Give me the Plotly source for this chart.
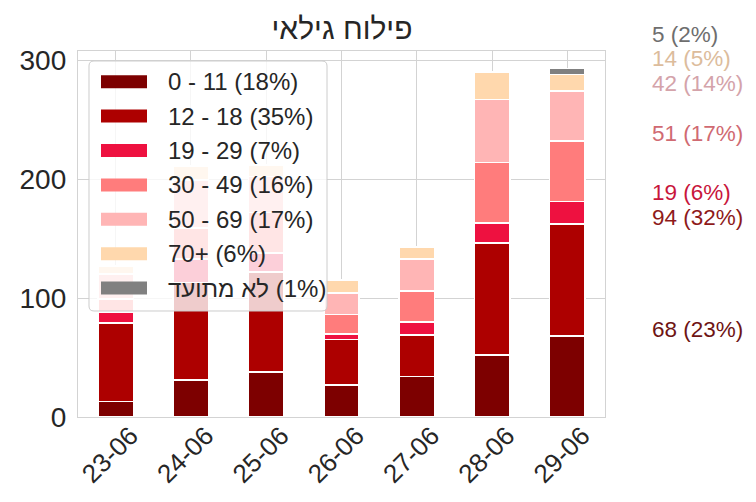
import plotly.graph_objects as go

# ---------------- data ----------------
dates = ["23-06", "24-06", "25-06", "26-06", "27-06", "28-06", "29-06"]
groups = ["0 - 11", "12 - 18", "19 - 29", "30 - 49", "50 - 69", "70+", "לא מתועד"]
legend_labels = ["0 - 11 (18%)", "12 - 18 (35%)", "19 - 29 (7%)", "30 - 49 (16%)",
                 "50 - 69 (17%)", "70+ (6%)", "לא מתועד\u200e (1%)"]

age_0_11 = [13, 31, 38, 27, 34, 52, 68]
age_12_18 = [66, 82, 84, 38, 35, 94, 94]
age_19_29 = [9, 20, 16, 5, 11, 17, 19]
age_30_49 = [11, 26, 34, 16, 26, 51, 51]
age_50_69 = [21, 40, 30, 18, 27, 53, 42]
age_70_plus = [7, 12, 10, 11, 10, 23, 14]
age_unknown = [0, 0, 0, 0, 0, 0, 5]

series = [age_0_11, age_12_18, age_19_29, age_30_49, age_50_69, age_70_plus, age_unknown]
y_ticks = [0, 100, 200, 300]

# ---------------- style ----------------
colors = ["#7d0000", "#ad0000", "#ee1140", "#ff7c7c", "#ffb5b5", "#ffd8ad", "#808080"]
label_colors = ["#6e1414", "#8e1a1a", "#c8163c", "#d06a72", "#d4a3aa", "#dcbc9c", "#6e6e6e"]
FONT = "Liberation Sans, Arial, DejaVu Sans, sans-serif"
TXT = "#262626"
GRID = "#d3d3d3"

W, H = 756, 502
L, R, T, B = 78, 605, 51, 417  # plot area in pixels
Y_MAX = 307.6

def xp(px):
    return (px - L) / (R - L)

def yp(py):
    return (B - py) / (B - T)

fig = go.Figure()
for name, vals, col in zip(groups, series, colors):
    fig.add_trace(go.Bar(
        x=dates, y=vals, name=name, marker_color=col,
        marker_line=dict(color="white", width=1.6), showlegend=False,
    ))

# ---------------- custom legend ----------------
shapes = []
annotations = []
bx0, bx1, by0, by1, rad = 89, 327, 61, 311, 5

def P(px, py):
    return f"{xp(px):.5f},{yp(py):.5f}"

path = (f"M{P(bx0+rad, by0)} L{P(bx1-rad, by0)} Q{P(bx1, by0)} {P(bx1, by0+rad)} "
        f"L{P(bx1, by1-rad)} Q{P(bx1, by1)} {P(bx1-rad, by1)} "
        f"L{P(bx0+rad, by1)} Q{P(bx0, by1)} {P(bx0, by1-rad)} "
        f"L{P(bx0, by0+rad)} Q{P(bx0, by0)} {P(bx0+rad, by0)} Z")
shapes.append(dict(type="path", path=path, xref="paper", yref="paper",
                   fillcolor="rgba(255,255,255,0.8)", line=dict(color="#cccccc", width=1),
                   layer="above"))
ly0, lstep = 81.7, 34.4
for i, (lab, col) in enumerate(zip(legend_labels, colors)):
    cy = ly0 + i * lstep
    shapes.append(dict(type="rect", xref="paper", yref="paper",
                       x0=xp(101), x1=xp(147), y0=yp(cy - 6.5), y1=yp(cy + 6.5),
                       fillcolor=col, line=dict(width=0), layer="above"))
    annotations.append(dict(text=lab, xref="paper", yref="paper", x=xp(166), y=yp(cy),
                            xanchor="left", yanchor="middle", showarrow=False,
                            font=dict(size=24, color=TXT, family=FONT)))

# ---------------- right-hand labels for the last day ----------------
last = [s[-1] for s in series]
total_last = sum(last)
cum = 0
prev = None
min_gap = 21
for v, col in zip(last, label_colors):
    cum += v
    ypos = cum if prev is None else max(cum, prev + min_gap)
    prev = ypos
    annotations.append(dict(text=f"{v} ({round(100 * v / total_last)}%)",
                            xref="paper", yref="paper", x=xp(650), y=ypos / Y_MAX,
                            xanchor="left", yanchor="middle", yshift=7, showarrow=False,
                            font=dict(size=22.5, color=col, family=FONT)))

fig.update_layout(
    width=W, height=H,
    margin=dict(l=L, r=W - R, t=T, b=H - B, pad=0, autoexpand=False),
    barmode="stack", bargap=0.53,
    plot_bgcolor="white", paper_bgcolor="white",
    font=dict(family=FONT, color=TXT),
    title=dict(text="פילוח גילאי", x=xp(342), xref="paper", xanchor="center",
               y=1 - 28 / H, yref="container", yanchor="middle",
               font=dict(size=30, color=TXT, family=FONT)),
    shapes=shapes, annotations=annotations,
    xaxis=dict(type="category", showgrid=True, gridcolor=GRID, gridwidth=1.3,
               showline=True, linecolor=GRID, linewidth=1.3, mirror=True, automargin=False,
               ticks="", tickangle=-45, tickfont=dict(size=26, color=TXT, family=FONT),
               ticklabelshift=15, ticklabelstandoff=-8),
    yaxis=dict(range=[0, Y_MAX], tickvals=y_ticks, showgrid=True, gridcolor=GRID,
               gridwidth=1.3, showline=True, linecolor=GRID, linewidth=1.3, mirror=True,
               automargin=False, zeroline=False, ticks="",
               tickfont=dict(size=28, color=TXT, family=FONT), ticklabelstandoff=5),
)

fig.write_html("out.html", config={"displayModeBar": False},
               post_script="document.body.style.margin='0px';")
